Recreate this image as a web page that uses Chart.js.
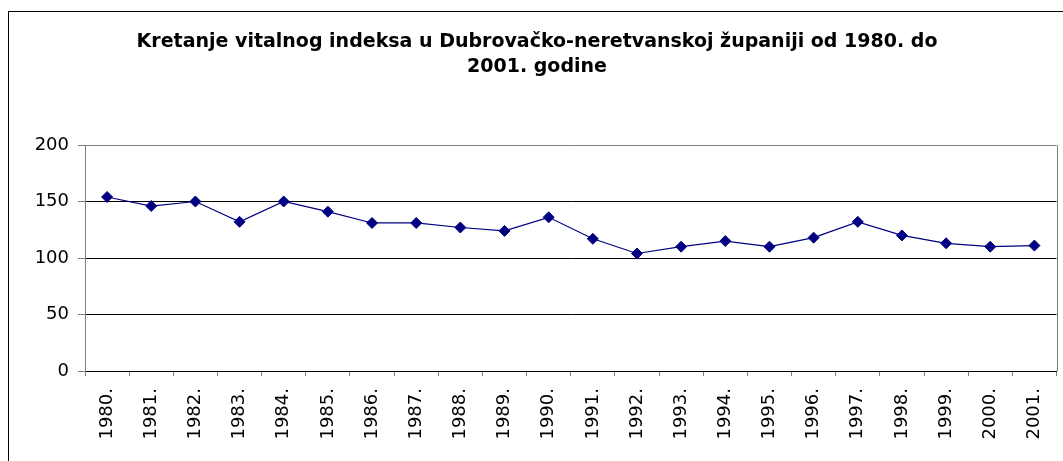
<!DOCTYPE html>
<html>
<head>
<meta charset="utf-8">
<script src="https://cdn.jsdelivr.net/npm/chart.js@4/dist/chart.umd.min.js"></script>
<style>
  html, body { margin: 0; padding: 0; background: #fff; }
  #wrap { width: 1063px; height: 461px; position: relative; }
</style>
</head>
<body>
<div id="wrap"><canvas id="chart"></canvas></div>
<script>
// --- data ---
const titleLines = ['Kretanje vitalnog indeksa u Dubrovačko-neretvanskoj županiji od 1980. do', '2001. godine'];
const years = ['1980.', '1981.', '1982.', '1983.', '1984.', '1985.', '1986.', '1987.', '1988.', '1989.', '1990.',
  '1991.', '1992.', '1993.', '1994.', '1995.', '1996.', '1997.', '1998.', '1999.', '2000.', '2001.'];
const vitalIndex = [154, 146, 150, 132, 150, 141, 131, 131, 127, 124, 136,
  117, 104, 110, 115, 110, 118, 132, 120, 113, 110, 111];
const yMin = 0;
const yMax = 200;
const yStep = 50;

// frame round the whole chart + grey right edge of the plot area
const framePlugin = {
  id: 'frame',
  beforeDatasetsDraw(chart) {
    const { ctx, chartArea } = chart;
    ctx.save();
    ctx.strokeStyle = '#808080';
    ctx.lineWidth = 1;
    ctx.beginPath();
    ctx.moveTo(Math.round(chartArea.right) + 0.5, chartArea.top);
    ctx.lineTo(Math.round(chartArea.right) + 0.5, chartArea.bottom);
    ctx.stroke();
    ctx.restore();
  },
  afterDraw(chart) {
    const ctx = chart.ctx;
    ctx.save();
    ctx.strokeStyle = '#000';
    ctx.lineWidth = 1;
    ctx.strokeRect(8.5, 11.5, 3000, 3000);
    ctx.restore();
  }
};

Chart.defaults.color = '#000';
Chart.defaults.font.family = '"DejaVu Sans", sans-serif';

const ctx = document.getElementById('chart').getContext('2d');
new Chart(ctx, {
  type: 'line',
  data: {
    labels: years,
    datasets: [{
      data: vitalIndex,
      borderColor: '#000080',
      borderWidth: 1.2,
      backgroundColor: '#000080',
      pointStyle: 'rectRot',
      pointRadius: 5.5,
      pointBorderWidth: 1,
      pointBorderColor: '#000080',
      pointBackgroundColor: '#000080',
      tension: 0,
      fill: false
    }]
  },
  options: {
    responsive: true,
    maintainAspectRatio: false,
    animation: false,
    layout: { padding: { left: 17, right: 6, top: 0, bottom: 0 } },
    plugins: {
      legend: { display: false },
      tooltip: { enabled: false },
      title: {
        display: true,
        text: titleLines,
        color: '#000',
        font: { size: 19, weight: 'bold', lineHeight: '25px' },
        padding: { top: 30, bottom: 65 }
      }
    },
    scales: {
      x: {
        offset: true,
        grid: {
          offset: true,
          drawOnChartArea: false,
          tickLength: 5,
          tickColor: '#808080'
        },
        border: { color: '#000', width: 1 },
        ticks: {
          autoSkip: false,
          minRotation: 90,
          maxRotation: 90,
          padding: 12,
          font: { size: 18 }
        },
        afterFit(scale) {
          scale.height = 90;
          scale.paddingLeft = 0;
          scale.paddingRight = 0;
        }
      },
      y: {
        min: yMin,
        max: yMax,
        grid: {
          color: c => (c.tick && c.tick.value === yMax ? '#808080' : '#000'),
          tickLength: 7,
          tickColor: '#808080'
        },
        border: { color: '#808080', width: 1 },
        ticks: {
          stepSize: yStep,
          padding: 9,
          font: { size: 18 }
        },
        afterFit(scale) { scale.width = 68; }
      }
    }
  },
  plugins: [framePlugin]
});
</script>
</body>
</html>
